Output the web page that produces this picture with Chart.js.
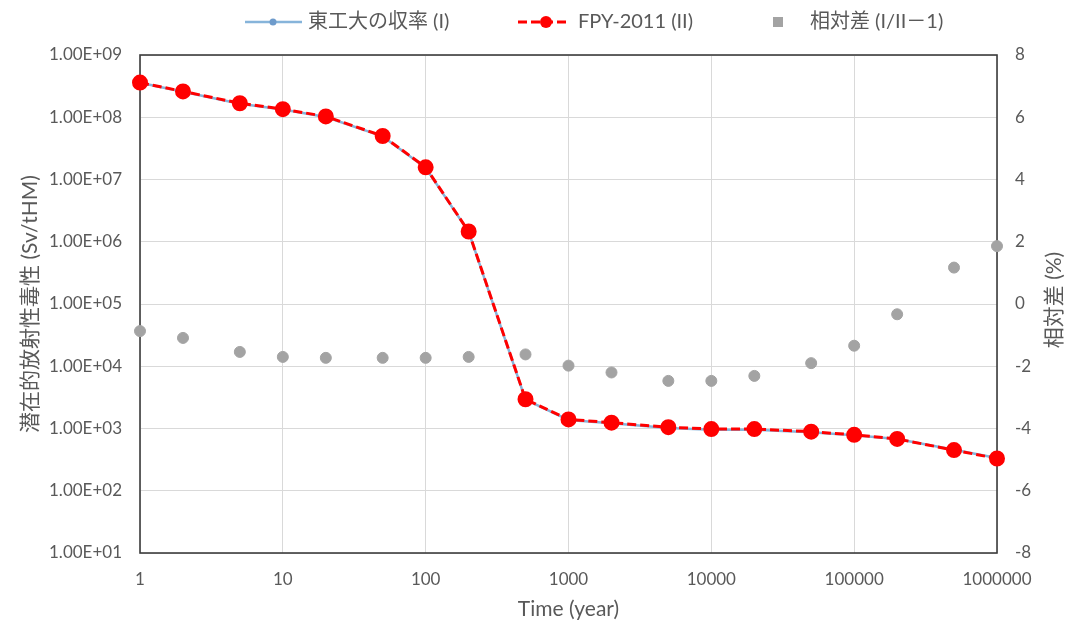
<!DOCTYPE html>
<html>
<head>
<meta charset="utf-8">
<script src="https://cdn.jsdelivr.net/npm/chart.js@4"></script>
<style>
  html, body { margin: 0; padding: 0; background: #ffffff; }
  #wrap { width: 1074px; height: 627px; position: relative; }
</style>
</head>
<body>
<div id="wrap"><canvas id="c"></canvas></div>
<script>
// Elapsed time after discharge (years)
const years = [1, 2, 5, 10, 20, 50, 100, 200, 500, 1000, 2000, 5000, 10000, 20000, 50000, 100000, 200000, 500000, 1000000];

// Potential radiotoxicity (Sv/tHM), Tokyo Tech yields (I)
const toxicityI = [3.57e8, 2.57e8, 1.65e8, 1.33e8, 1.01e8, 4.92e7, 1.54e7, 1.44e6, 2.90e3, 1.37e3, 1.21e3, 1.02e3, 956, 957, 873, 780, 678, 455, 336];

// Potential radiotoxicity (Sv/tHM), FPY-2011 (II)
const toxicityII = [3.60e8, 2.60e8, 1.68e8, 1.35e8, 1.03e8, 5.00e7, 1.57e7, 1.46e6, 2.95e3, 1.40e3, 1.24e3, 1.05e3, 980, 980, 890, 790, 680, 450, 330];

// Relative difference I/II - 1 (%)
const relDiff = [-0.87, -1.09, -1.54, -1.70, -1.73, -1.73, -1.73, -1.70, -1.62, -1.98, -2.20, -2.47, -2.47, -2.31, -1.90, -1.34, -0.33, 1.17, 1.86];

// Axis ticks
const xTicks = [1, 10, 100, 1000, 10000, 100000, 1000000];
const yTicks = [1e1, 1e2, 1e3, 1e4, 1e5, 1e6, 1e7, 1e8, 1e9];

const labelI = '東工大の収率 (I)';
const labelII = 'FPY-2011 (II)';
const labelDiff = '相対差 (I/II－1)';
const yTitle = '潜在的放射性毒性 (Sv/tHM)';
const y1Title = '相対差 (%)';
const xTitle = 'Time (year)';

const FONT = 'Lato, "Noto Sans CJK JP", sans-serif';
const TEXT = '#595959';
const GRID = '#D9D9D9';

function expLabel(v) {
  const e = Math.round(Math.log10(v));
  return '1.00E+' + String(e).padStart(2, '0');
}

const pts = (arr) => years.map((x, i) => ({ x: x, y: arr[i] }));

// Legend row, plot frame and rotated right-axis title
const decor = {
  id: 'decor',
  beforeDatasetsDraw(chart) {
    const { ctx, chartArea: a } = chart;
    ctx.save();
    ctx.strokeStyle = '#3c3c3c';
    ctx.lineWidth = 1.6;
    ctx.strokeRect(a.left, a.top, a.right - a.left, a.bottom - a.top);
    ctx.restore();
  },
  afterDraw(chart) {
    const { ctx } = chart;
    const ds = chart.data.datasets;
    const ly = 22;
    ctx.save();
    ctx.font = '20px ' + FONT;
    ctx.fillStyle = TEXT;
    ctx.textBaseline = 'middle';

    // series I: thin line with small marker
    ctx.strokeStyle = ds[0].borderColor;
    ctx.lineWidth = ds[0].borderWidth;
    ctx.beginPath(); ctx.moveTo(245, ly); ctx.lineTo(302, ly); ctx.stroke();
    ctx.fillStyle = ds[0].pointBackgroundColor;
    ctx.beginPath(); ctx.arc(273, ly, 3.5, 0, Math.PI * 2); ctx.fill();
    ctx.fillStyle = TEXT;
    ctx.fillText(ds[0].label, 308, ly);

    // series II: dashed red with round marker
    ctx.strokeStyle = ds[1].borderColor;
    ctx.lineWidth = ds[1].borderWidth;
    ctx.setLineDash(ds[1].borderDash);
    ctx.beginPath(); ctx.moveTo(518, ly); ctx.lineTo(566, ly); ctx.stroke();
    ctx.setLineDash([]);
    ctx.fillStyle = ds[1].pointBackgroundColor;
    ctx.beginPath(); ctx.arc(546, ly, 6, 0, Math.PI * 2); ctx.fill();
    ctx.fillStyle = TEXT;
    ctx.fillText(ds[1].label, 578, ly);

    // relative difference: grey square marker
    ctx.fillStyle = ds[2].pointBackgroundColor;
    ctx.fillRect(773, ly - 5, 10, 10);
    ctx.fillStyle = TEXT;
    ctx.fillText(ds[2].label, 810, ly);

    // right axis title, reading bottom to top
    ctx.translate(1054, 300);
    ctx.rotate(-Math.PI / 2);
    ctx.font = '21px ' + FONT;
    ctx.textAlign = 'center';
    ctx.fillText(y1Title, 0, 0);
    ctx.restore();
  }
};

new Chart(document.getElementById('c'), {
  type: 'line',
  data: {
    datasets: [
      {
        label: labelI,
        data: pts(toxicityI),
        yAxisID: 'y',
        borderColor: '#86B4DA',
        backgroundColor: '#86B4DA',
        pointBackgroundColor: '#6E9BCB',
        pointBorderColor: '#6E9BCB',
        borderWidth: 2.5,
        pointRadius: 3.5,
        tension: 0,
        clip: false,
        order: 2
      },
      {
        label: labelII,
        data: pts(toxicityII),
        yAxisID: 'y',
        borderColor: '#FF0000',
        backgroundColor: '#FF0000',
        pointBackgroundColor: '#FF0000',
        pointBorderColor: '#FF0000',
        borderWidth: 3,
        borderDash: [9, 4],
        pointRadius: 6.5,
        tension: 0,
        clip: false,
        order: 1
      },
      {
        label: labelDiff,
        data: pts(relDiff),
        yAxisID: 'y1',
        showLine: false,
        borderColor: '#A3A3A3',
        backgroundColor: '#A3A3A3',
        pointBackgroundColor: '#A3A3A3',
        pointBorderColor: '#A3A3A3',
        pointRadius: 5.5,
        clip: false,
        order: 3
      }
    ]
  },
  options: {
    responsive: true,
    maintainAspectRatio: false,
    devicePixelRatio: 1,
    animation: false,
    layout: { padding: { top: 55, right: 0, bottom: 0, left: 0 } },
    plugins: {
      legend: { display: false },
      tooltip: { enabled: false }
    },
    scales: {
      x: {
        type: 'logarithmic',
        min: 1,
        max: 1000000,
        afterBuildTicks: (s) => { s.ticks = xTicks.map(v => ({ value: v })); },
        afterFit: (s) => { s.height = 74; },
        grid: { color: GRID, lineWidth: 1, drawTicks: false },
        border: { display: false },
        ticks: {
          padding: 16,
          color: TEXT,
          font: { family: FONT, size: 17 },
          maxRotation: 0,
          autoSkip: false,
          callback: (v) => String(v)
        },
        title: {
          display: true,
          text: xTitle,
          color: TEXT,
          font: { family: FONT, size: 21 },
          padding: { top: 0, bottom: 5 }
        }
      },
      y: {
        type: 'logarithmic',
        position: 'left',
        min: 10,
        max: 1e9,
        afterBuildTicks: (s) => { s.ticks = yTicks.map(v => ({ value: v })); },
        afterFit: (s) => { s.width = 140; },
        grid: { color: GRID, lineWidth: 1, drawTicks: false },
        border: { display: false },
        ticks: {
          padding: 18,
          color: TEXT,
          font: { family: FONT, size: 17 },
          autoSkip: false,
          callback: (v) => expLabel(v)
        },
        title: {
          display: true,
          text: yTitle,
          color: TEXT,
          font: { family: FONT, size: 21 },
          padding: { top: 18, bottom: 0 }
        }
      },
      y1: {
        type: 'linear',
        position: 'right',
        min: -8,
        max: 8,
        afterFit: (s) => { s.width = 77; },
        grid: { display: false, drawTicks: false },
        border: { display: false },
        ticks: {
          stepSize: 2,
          padding: 18,
          color: TEXT,
          font: { family: FONT, size: 17 },
          callback: (v) => String(v)
        }
      }
    }
  },
  plugins: [decor]
});
</script>
</body>
</html>
